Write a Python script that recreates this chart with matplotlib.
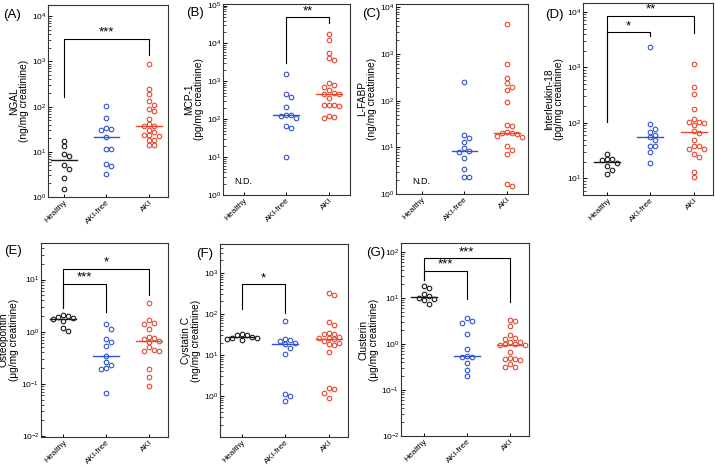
import numpy as np
import matplotlib
matplotlib.use('Agg')
import matplotlib.pyplot as plt
from matplotlib.ticker import FixedLocator, LogLocator, NullFormatter, FuncFormatter

plt.rcParams['font.family'] = ['Liberation Sans', 'DejaVu Sans']
plt.rcParams['mathtext.fontset'] = 'custom'
plt.rcParams['mathtext.rm'] = 'Liberation Sans'
plt.rcParams['mathtext.it'] = 'Liberation Sans:italic'

# ---------------- data ----------------
groups = ['Healthy', 'AKI-free', 'AKI']
colors = ['#1a1a1a', '#2f52d6', '#e8472e']

ngal_healthy = [17.4, 13.5, 9.1, 8.2, 5.1, 4.2, 2.6, 1.5]
ngal_free = [102, 56, 34, 32, 31, 21, 11.4, 11.4, 5.5, 4.9, 3.3]
ngal_aki = [900, 250, 195, 131, 111, 87, 82, 54, 42, 37, 37, 30, 27, 24, 23, 22, 18, 18, 14, 14]

mcp1_free = [1580, 465, 388, 207, 129, 129, 122, 106, 66, 58, 10]
mcp1_aki = [17800, 12400, 5500, 4000, 3700, 890, 800, 700, 590, 480, 470, 460, 355,
            240, 235, 230, 225, 120, 117, 110]

lfabp_free = [255, 18.4, 15.6, 13.2, 9.8, 8.4, 8.1, 5.8, 3.4, 2.35, 2.35]
lfabp_aki = [4400, 610, 305, 235, 193, 170, 95, 30, 29, 21, 20, 20, 19.5, 17.5, 17,
             10.7, 8.8, 7.1, 1.65, 1.5]

il18_healthy = [27, 22, 22, 21.5, 18.6, 17, 14, 11.8]
il18_free = [2370, 94, 79, 69, 60, 56, 49, 38, 38, 30, 19]
il18_aki = [1150, 435, 330, 175, 117, 102, 102, 98, 91, 70, 66, 49, 39, 39, 34.5, 34,
            27.5, 24.5, 13.2, 10.4]

opn_healthy = [2.1, 2.0, 1.95, 1.8, 1.75, 1.6, 1.2, 1.05]
opn_free = [1.38, 1.12, 0.72, 0.63, 0.52, 0.34, 0.26, 0.23, 0.2, 0.19, 0.068]
opn_aki = [3.5, 1.7, 1.45, 1.4, 1.12, 0.8, 0.75, 0.72, 0.66, 0.64, 0.5, 0.45, 0.43,
           0.42, 0.19, 0.135, 0.09]

cysc_healthy = [32, 31, 30, 27, 26, 26, 25, 23]
cysc_free = [67, 24, 23, 21.5, 19, 18, 14.3, 10.5, 1.1, 1.0, 0.76]
cysc_aki = [313, 280, 63, 53, 34, 33, 32, 28, 26, 25.5, 24.5, 22, 20, 18, 17, 11.7,
            1.55, 1.5, 1.2, 0.9]

clu_healthy = [18, 16, 12, 10.8, 10, 9.5, 9, 7.5]
clu_free = [3.6, 3.2, 2.9, 1.65, 0.76, 0.55, 0.53, 0.52, 0.38, 0.27, 0.2]
clu_aki = [3.3, 3.2, 2.4, 1.58, 1.35, 1.3, 1.12, 1.08, 1.0, 0.98, 0.95, 0.93, 0.66,
           0.5, 0.48, 0.47, 0.45, 0.37, 0.32, 0.31]

panel_labels = ['(A)', '(B)', '(C)', '(D)', '(E)', '(F)', '(G)']
ylabels = ['NGAL\n(ng/mg creatinine)', 'MCP-1\n(pg/mg creatinine)',
           'L-FABP\n(ng/mg creatinine)', 'Interleukin-18\n(pg/mg creatinine)',
           'Osteopontin\n(\u03bcg/mg creatinine)', 'Cystatin C\n(ng/mg creatinine)',
           'Clusterin\n(\u03bcg/mg creatinine)']
panel_data = [
    [ngal_healthy, ngal_free, ngal_aki],
    [None, mcp1_free, mcp1_aki],
    [None, lfabp_free, lfabp_aki],
    [il18_healthy, il18_free, il18_aki],
    [opn_healthy, opn_free, opn_aki],
    [cysc_healthy, cysc_free, cysc_aki],
    [clu_healthy, clu_free, clu_aki],
]
# y tick exponents shown
yticks_exp = [[0, 1, 2, 3, 4], [0, 1, 2, 3, 4, 5], [0, 1, 2, 3, 4], [1, 2, 3, 4],
              [-2, -1, 0, 1], [0, 1, 2, 3], [-2, -1, 0, 1, 2]]
# significance: (group i, group j, top exponent, left leg bottom, right leg bottom, label)
brackets = [
    [(0, 2, 3.5, 2.21, 3.14, '***')],
    [(1, 2, 4.69, 3.48, 4.53, '**')],
    [],
    [(0, 1, 3.63, 2.02, 3.56, '*'), (0, 2, 3.93, 2.02, 3.62, '**')],
    [(0, 1, 0.92, 0.46, 0.38, '***'), (0, 2, 1.21, 0.46, 0.70, '*')],
    [(0, 1, 2.72, 2.11, 2.02, '*')],
    [(0, 1, 1.585, 1.38, 0.98, '***'), (0, 2, 1.855, 1.38, 0.91, '***')],
]
nd_exp = [None, 0.35, 0.26, None, None, None, None]

# ---------------- layout (pixels) ----------------
W, H = 715, 466
# left, right, top, bottom, xlim, ylim exponents
layout = [
    (48, 168, 5, 197, (-0.37, 2.45), (0, 4.25)),
    (223, 350, 4, 195, (-0.48, 2.49), (0, 5.04)),
    (396, 528, 4, 194, (-0.6, 2.49), (0, 4.07)),
    (583, 713, 3, 195, (-0.56, 2.45), (0.70, 4.16)),
    (41, 168, 243, 437, (-0.52, 2.44), (-2.02, 1.70)),
    (220, 348, 244, 437, (-0.5, 2.44), (-1.0, 3.7)),
    (401, 529, 243, 436, (-0.53, 2.45), (-2.0, 2.19)),
]
label_pos = [(3, 15), (186, 13), (362, 14), (545, 15), (4, 251), (196, 254), (366, 253)]

fig = plt.figure(figsize=(W / 100, H / 100), dpi=100)

DIAM = 4.8  # collision diameter in px


def swarm(vals, wpx, hpx, xr, yr):
    y = np.log10(np.asarray(vals, float)) * hpx / (yr[1] - yr[0])
    order = np.argsort(-y)
    placed = []
    offs = np.zeros(len(y))
    cands = [0.0]
    for j in range(1, 12):
        cands += [j * DIAM * 1.05, -j * DIAM * 1.05]
    for i in order:
        for c in cands:
            if all((c - px) ** 2 + (y[i] - py) ** 2 >= DIAM ** 2 for px, py in placed):
                break
        placed.append((c, y[i]))
        offs[i] = c
    return offs * (xr[1] - xr[0]) / wpx


for k in range(7):
    l, r, t, b, xr, yr = layout[k]
    ax = fig.add_axes([l / W, 1 - b / H, (r - l) / W, (b - t) / H])
    ax.set_yscale('log')
    ax.set_xlim(*xr)
    ax.set_ylim(10 ** yr[0], 10 ** yr[1])
    wpx, hpx = r - l, b - t
    for g in range(3):
        vals = panel_data[k][g]
        if vals is None:
            continue
        offs = swarm(vals, wpx, hpx, xr, yr)
        ax.plot(g + offs, vals, 'o', ms=3.3, mfc='none', mec=colors[g], mew=0.8,
                clip_on=False, zorder=3)
        med = np.median(vals)
        ax.plot([g - 0.3, g + 0.3], [med, med], color=colors[g], lw=1.0, zorder=2)
    for (i, j, top, lb, rb, lab) in brackets[k]:
        ax.plot([i, i, j, j], [10 ** lb, 10 ** top, 10 ** top, 10 ** rb],
                color='black', lw=0.8, zorder=2)
        ax.annotate(lab, xy=((i + j) / 2, 10 ** top), xytext=(0, 0),
                    textcoords='offset points', ha='center', va='bottom', fontsize=9.5)
    if nd_exp[k] is not None:
        ax.text(0, 10 ** nd_exp[k], 'N.D.', ha='center', va='center', fontsize=6.5)
    ax.yaxis.set_major_locator(FixedLocator([10.0 ** e for e in yticks_exp[k]]))
    ax.yaxis.set_major_formatter(FuncFormatter(lambda v, p: '$10^{%d}$' % round(np.log10(v))))
    ax.yaxis.set_minor_locator(LogLocator(base=10, subs=np.arange(2, 10), numticks=20))
    ax.yaxis.set_minor_formatter(NullFormatter())
    ax.set_xticks(range(3))
    ax.set_xticklabels(groups, rotation=45, ha='right', rotation_mode='anchor', fontsize=6.0)
    ax.tick_params(axis='y', which='major', direction='in', labelsize=6.0, length=3,
                   width=0.7, pad=1.2)
    ax.tick_params(axis='y', which='minor', direction='in', length=1.8, width=0.5)
    ax.tick_params(axis='x', direction='in', length=2.5, width=0.7, pad=1.2)
    for s in ax.spines.values():
        s.set_linewidth(0.8)
        s.set_color('#333333')
    ax.set_ylabel(ylabels[k], fontsize=7.3, linespacing=1.0, labelpad=2)
    fig.text(label_pos[k][0] / W, 1 - label_pos[k][1] / H, panel_labels[k],
             fontsize=9.5, ha='left', va='center')

fig.savefig('out.png', dpi=100)
